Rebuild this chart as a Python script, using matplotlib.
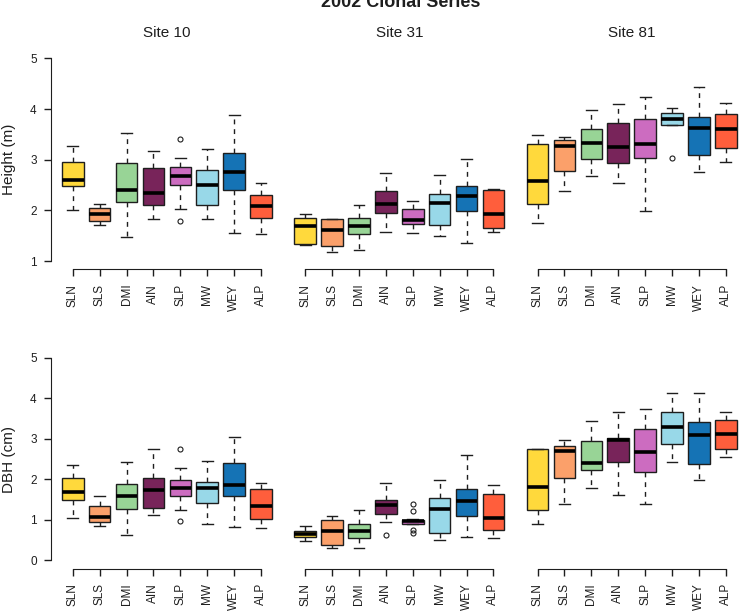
import matplotlib
matplotlib.use("Agg")
import matplotlib.pyplot as plt

plt.rcParams["font.family"] = ["Liberation Sans", "DejaVu Sans"]

clones = ["SLN", "SLS", "DMI", "AIN", "SLP", "MW", "WEY", "ALP"]
colors = ["#FFD93C", "#FBA06A", "#98D496", "#78245A", "#CC6CC0", "#98D8E8", "#1573B5", "#FF5E3C"]
sites = ["Site 10", "Site 31", "Site 81"]

# each row: whisker low, q1, median, q3, whisker high (one row per clone)
height_site10 = [[2.00, 2.49, 2.59, 2.95, 3.28], [1.72, 1.80, 1.92, 2.04, 2.12],
                 [1.47, 2.17, 2.40, 2.94, 3.52], [1.83, 2.11, 2.34, 2.83, 3.18],
                 [2.02, 2.50, 2.67, 2.86, 3.04], [1.83, 2.10, 2.51, 2.79, 3.22],
                 [1.55, 2.40, 2.75, 3.13, 3.88], [1.54, 1.85, 2.08, 2.30, 2.54]]
height_site31 = [[1.31, 1.33, 1.69, 1.85, 1.92], [1.18, 1.30, 1.62, 1.83, 1.84],
                 [1.22, 1.54, 1.69, 1.85, 2.11], [1.58, 1.94, 2.13, 2.38, 2.74],
                 [1.56, 1.74, 1.81, 2.02, 2.18], [1.49, 1.71, 2.14, 2.33, 2.69],
                 [1.36, 1.98, 2.28, 2.48, 3.01], [1.58, 1.66, 1.92, 2.40, 2.43]]
height_site81 = [[1.76, 2.12, 2.57, 3.30, 3.48], [2.38, 2.77, 3.28, 3.39, 3.45],
                 [2.67, 3.02, 3.33, 3.60, 3.98], [2.55, 2.93, 3.26, 3.72, 4.10],
                 [1.98, 3.03, 3.31, 3.81, 4.24], [3.69, 3.69, 3.80, 3.92, 4.02],
                 [2.76, 3.10, 3.63, 3.84, 4.43], [2.96, 3.24, 3.60, 3.90, 4.12]]
dbh_site10 = [[1.05, 1.50, 1.69, 2.04, 2.36], [0.84, 0.95, 1.07, 1.34, 1.58],
              [0.62, 1.26, 1.59, 1.89, 2.44], [1.11, 1.30, 1.75, 2.04, 2.75],
              [1.24, 1.60, 1.79, 1.98, 2.29], [0.89, 1.42, 1.79, 1.94, 2.45],
              [0.82, 1.59, 1.85, 2.41, 3.05], [0.80, 1.03, 1.35, 1.76, 1.90]]
dbh_site31 = [[0.48, 0.58, 0.65, 0.72, 0.86], [0.30, 0.39, 0.72, 1.00, 1.10],
              [0.31, 0.55, 0.72, 0.91, 1.24], [0.96, 1.15, 1.36, 1.48, 1.90],
              [0.90, 0.91, 0.97, 1.01, 1.02], [0.51, 0.68, 1.27, 1.55, 1.98],
              [0.59, 1.10, 1.47, 1.77, 2.60], [0.56, 0.74, 1.05, 1.65, 1.85]]
dbh_site81 = [[0.91, 1.25, 1.80, 2.74, 2.76], [1.40, 2.04, 2.71, 2.83, 2.96],
              [1.78, 2.23, 2.41, 2.95, 3.44], [1.61, 2.42, 2.97, 3.01, 3.67],
              [1.39, 2.17, 2.67, 3.25, 3.73], [2.42, 2.88, 3.30, 3.65, 4.12],
              [1.98, 2.38, 3.10, 3.42, 4.12], [2.54, 2.75, 3.11, 3.46, 3.65]]

# outliers: {clone index: values}
height_site10_out = {4: [3.41, 1.79]}
height_site31_out = {}
height_site81_out = {5: [3.03]}
dbh_site10_out = {4: [2.76, 0.97]}
dbh_site31_out = {3: [0.63], 4: [1.39, 1.22, 0.75, 0.67]}
dbh_site81_out = {}

rows = [
    ("Height (m)", (1, 5), [height_site10, height_site31, height_site81],
     [height_site10_out, height_site31_out, height_site81_out]),
    ("DBH (cm)", (0, 5), [dbh_site10, dbh_site31, dbh_site81],
     [dbh_site10_out, dbh_site31_out, dbh_site81_out]),
]

W, H = 751, 612
fig = plt.figure(figsize=(W / 100, H / 100), dpi=100)
fig.patch.set_facecolor("white")

ink = "#1e1e1e"
lefts = [50.7, 283.1, 515.5]
tops = [50.2, 349.6]
pw, ph = 232.4, 219.0

# main title sits mostly above the top edge, as in the source figure
fig.text(401 / W, 1 - 7 / H, "2002 Clonal Series", ha="center", va="baseline",
         fontsize=13, fontweight="bold", color=ink)

for r, (ylab, (y0, y1), panels, outs) in enumerate(rows):
    for c in range(3):
        ax = fig.add_axes([lefts[c] / W, 1 - (tops[r] + ph) / H, pw / W, ph / H])
        stats = []
        for i, row in enumerate(panels[c]):
            lo, q1, med, q3, hi = row
            stats.append(dict(med=med, q1=q1, q3=q3, whislo=lo, whishi=hi,
                              fliers=outs[c].get(i, [])))
        bp = ax.bxp(stats, positions=range(1, 9), widths=0.8, capwidths=0.4,
                    patch_artist=True, manage_ticks=False,
                    boxprops=dict(edgecolor=ink, linewidth=1.0),
                    whiskerprops=dict(color=ink, linewidth=1.0, linestyle=(0, (3.5, 3.5))),
                    capprops=dict(color=ink, linewidth=1.0),
                    medianprops=dict(color="black", linewidth=2.6, solid_capstyle="butt"),
                    flierprops=dict(marker="o", markerfacecolor="none",
                                    markeredgecolor=ink, markersize=3.6, markeredgewidth=0.8))
        for patch, col in zip(bp["boxes"], colors):
            patch.set_facecolor(col)

        span = y1 - y0
        ax.set_xlim(0.18, 8.82)
        ax.set_ylim(y0 - 0.04 * span, y1 + 0.04 * span)
        ax.set_facecolor("white")
        for s in ["top", "right"]:
            ax.spines[s].set_visible(False)
        ax.spines["bottom"].set_bounds(1, 8)
        ax.spines["bottom"].set_color(ink)
        ax.set_xticks(range(1, 9))
        ax.set_xticklabels(clones, rotation=90, fontsize=8.5, color=ink)
        ax.tick_params(axis="x", length=5, width=1, color=ink, pad=5.5)

        if c == 0:
            ax.spines["left"].set_bounds(y0, y1)
            ax.spines["left"].set_color(ink)
            ax.set_yticks(range(y0, y1 + 1))
            ax.tick_params(axis="y", length=5, width=1, color=ink, pad=5, labelsize=8.5,
                           labelcolor=ink)
            ax.set_ylabel(ylab, fontsize=11, color=ink)
            ax.yaxis.set_label_coords(-0.15, 0.5)
        else:
            ax.spines["left"].set_visible(False)
            ax.set_yticks([])

        if r == 0:
            ax.set_title(sites[c], fontsize=11, color=ink, pad=9.3)

fig.savefig("out.png", dpi=100, facecolor="white")
